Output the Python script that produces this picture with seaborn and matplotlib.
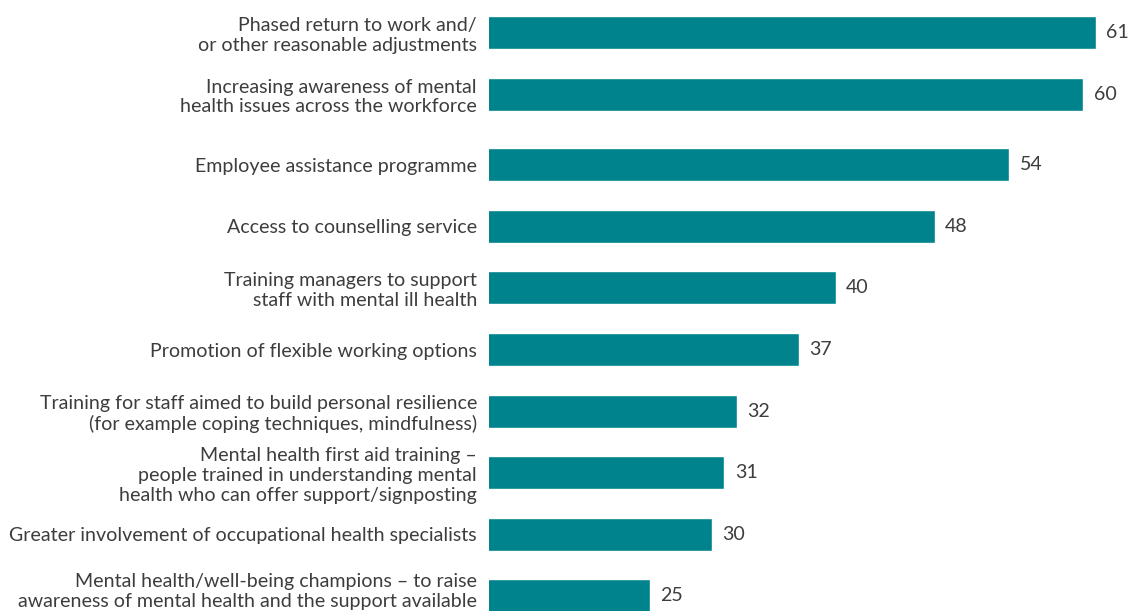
import matplotlib
matplotlib.use("Agg")
import matplotlib.pyplot as plt
from matplotlib.transforms import ScaledTranslation
import seaborn as sns
import numpy as np
import pandas as pd

categories = [
    "Phased return to work and/\nor other reasonable adjustments",
    "Increasing awareness of mental\nhealth issues across the workforce",
    "Employee assistance programme",
    "Access to counselling service",
    "Training managers to support\nstaff with mental ill health",
    "Promotion of flexible working options",
    "Training for staff aimed to build personal resilience\n(for example coping techniques, mindfulness)",
    "Mental health first aid training \u2013\npeople trained in understanding mental\nhealth who can offer support/signposting",
    "Greater involvement of occupational health specialists",
    "Mental health/well-being champions \u2013 to raise\nawareness of mental health and the support available",
]
values = [61, 60, 54, 48, 40, 37, 32, 31, 30, 25]

# row slots: the two leading measures sit a little apart from the rest
rows = np.arange(len(categories)) + np.where(np.arange(len(categories)) >= 2, 0.146, 0.0)

df = pd.DataFrame({"row": rows, "pct": values})

sns.set_theme(style="white")
plt.rcParams["font.family"] = ["Lato", "DejaVu Sans"]

BAR = "#00838d"
TEXT = "#3d3d3d"
FS = 14.1

fig = plt.figure(figsize=(11.33, 6.11), dpi=100)
ax = fig.add_axes([489.5 / 1133, 0, 1 - 489.5 / 1133, 1])

sns.barplot(data=df, y="row", x="pct", orient="h", native_scale=True,
            color=BAR, width=0.536, saturation=1, ax=ax)

ax.set_xlim(12.04, 64.0)
ax.set_ylim(9.391, -0.5276)
ax.set_xlabel("")
ax.set_ylabel("")
ax.set_xticks([])
ax.set_yticks(rows, categories)
for s in ax.spines.values():
    s.set_visible(False)

ax.tick_params(axis="y", length=0, pad=9, labelsize=FS, labelcolor=TEXT)
labels = ax.get_yticklabels()
for lab in labels:
    lab.set_linespacing(1.2)
# nudge the bottom label up so it stays inside the figure
labels[-1].set_transform(labels[-1].get_transform()
                         + ScaledTranslation(0, 7 / 100, fig.dpi_scale_trans))

for c in ax.containers:
    ax.bar_label(c, labels=[str(v) for v in values], padding=7.5,
                 fontsize=FS, color=TEXT)

fig.savefig("out.png", dpi=100)
